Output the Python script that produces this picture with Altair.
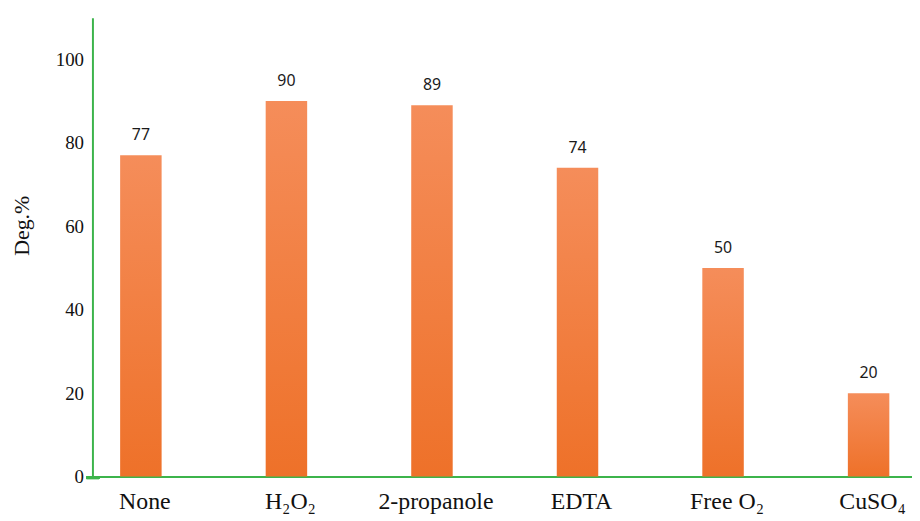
import altair as alt
import pandas as pd

categories = ["None", "H₂O₂", "2-propanole", "EDTA", "Free O₂", "CuSO₄"]
values = [77, 90, 89, 74, 50, 20]
y_ticks = [0, 20, 40, 60, 80, 100]

df = pd.DataFrame({"cat": categories, "val": values})

W, H = 825, 462
GREEN = "#3cb44b"

xscale = alt.Scale(paddingInner=0.715, paddingOuter=0.173, align=0.55)
xenc = alt.X("cat:N", sort=categories, scale=xscale,
             axis=alt.Axis(title=None, labelAngle=0, labelFont="Liberation Serif",
                           labelFontSize=24, labelColor="#111", labelPadding=13,
                           labelOffset=4,
                           ticks=False, domainColor=GREEN, domainWidth=2))
yenc = alt.Y("val:Q", scale=alt.Scale(domain=[0, 110], nice=False),
             axis=alt.Axis(title="Deg.%", values=y_ticks, grid=False, ticks=False,
                           labelFont="Liberation Serif", labelFontSize=19,
                           labelColor="#111", labelPadding=9,
                           domainColor=GREEN, domainWidth=2,
                           titleFont="Liberation Serif", titleFontSize=22,
                           titleFontWeight="normal", titleColor="#111",
                           titlePadding=22, titleY=209))

grad = alt.Gradient(gradient="linear",
                    stops=[alt.GradientStop(color="#f58d5a", offset=0),
                           alt.GradientStop(color="#ee7129", offset=1)],
                    x1=0, x2=0, y1=0, y2=1)

bars = alt.Chart(df).mark_bar(color=grad).encode(x=xenc, y=yenc)

labels = alt.Chart(df).mark_text(font="Noto Sans", fontSize=16, color="#1a1a1a",
                                 baseline="alphabetic", dy=-15).encode(
    x=alt.X("cat:N", sort=categories), y="val:Q", text="val:Q")

stub = alt.Chart(df).mark_rule(color=GREEN, strokeWidth=3).encode(
    x=alt.value(-6), x2=alt.value(7), y=alt.value(H + 1))

chart = alt.layer(bars, labels, stub).properties(
    width=W, height=H,
    autosize=alt.AutoSizeParams(type="none"),
    padding={"left": 85, "top": 8, "right": 0, "bottom": 42},
    background="white",
).configure_view(stroke=None)

chart.save("out.html", embed_options={"renderer": "svg", "actions": False})
